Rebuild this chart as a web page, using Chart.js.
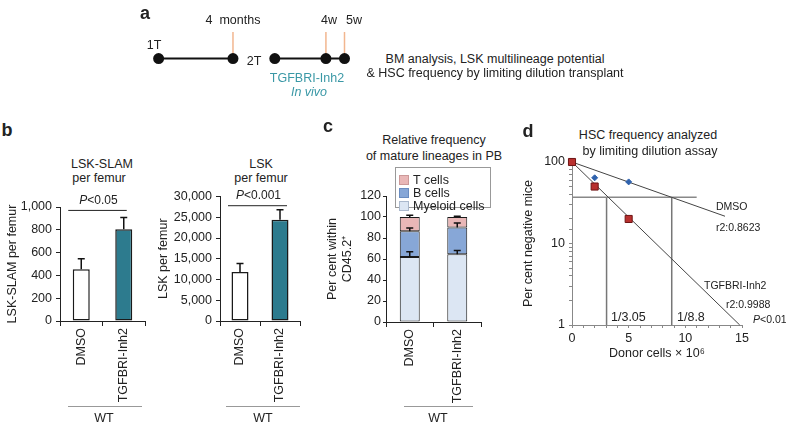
<!DOCTYPE html>
<html>
<head>
<meta charset="utf-8">
<script src="https://cdn.jsdelivr.net/npm/chart.js@4.4.1/dist/chart.umd.min.js"></script>
<style>
body{margin:0;background:#fff;width:786px;height:425px;overflow:hidden;position:relative;font-family:"Liberation Sans",Arial,sans-serif;color:#222}
canvas{position:absolute}
.t{position:absolute;white-space:nowrap;transform:translate(-50%,-50%);font-size:12.5px;line-height:1}
.l{transform:translate(0,-50%)}
.sm{font-size:10.5px}
.letter{font-weight:bold;font-size:18px}
.wt{position:absolute;border-top:1.5px solid #999;height:0}
.teal{color:#3a98a6}
#legend{position:absolute;left:395px;top:167px;width:94px;height:39px;border:1px solid #999;background:#fff;font-size:12.5px}
#legend div{position:absolute;left:3px;white-space:nowrap;line-height:1}
#legend span{display:inline-block;width:8px;height:8px;margin-right:4px;vertical-align:-1px}
</style>
</head>
<body>
<canvas id="timeline" width="250" height="110" style="left:130px;top:0"></canvas>
<canvas id="slam" width="150" height="240" style="left:1px;top:185px"></canvas>
<canvas id="lsk" width="158" height="240" style="left:152px;top:185px"></canvas>
<canvas id="lineage" width="165" height="240" style="left:321px;top:185px"></canvas>
<canvas id="hsc" width="269" height="215" style="left:517px;top:150px"></canvas>

<div class="t letter" style="left:145px;top:13px">a</div>
<div class="t" style="left:154px;top:45px">1T</div>
<div class="t" style="left:233px;top:20px">4&nbsp; months</div>
<div class="t" style="left:254px;top:61px">2T</div>
<div class="t" style="left:329px;top:20px">4w</div>
<div class="t" style="left:354px;top:20px">5w</div>
<div class="t teal" style="left:307px;top:78px">TGFBRI-Inh2</div>
<div class="t teal" style="left:309px;top:92px"><i>In vivo</i></div>
<div class="t" style="left:495px;top:59px">BM analysis, LSK multilineage potential</div>
<div class="t" style="left:495px;top:73px">&amp; HSC frequency by limiting dilution transplant</div>

<div class="t letter" style="left:7px;top:130px">b</div>
<div class="t" style="left:102px;top:164px">LSK-SLAM</div>
<div class="t" style="left:99px;top:178px">per femur</div>
<div class="t" style="left:261px;top:164px">LSK</div>
<div class="t" style="left:261px;top:178px">per femur</div>
<div class="wt" style="left:68px;top:406px;width:74px"></div>
<div class="t" style="left:104px;top:418px">WT</div>
<div class="wt" style="left:226px;top:406px;width:74px"></div>
<div class="t" style="left:263px;top:418px">WT</div>

<div class="t letter" style="left:328px;top:126px">c</div>
<div class="t" style="left:434px;top:140px">Relative frequency</div>
<div class="t" style="left:434px;top:156px">of mature lineages in PB</div>
<div id="legend">
  <div style="top:6px"><span style="background:#e9b7b7;border:1px solid #c99"></span>T cells</div>
  <div style="top:19px"><span style="background:#87a7d7;border:1px solid #6a8cc0"></span>B cells</div>
  <div style="top:32px"><span style="background:#dce6f3;border:1px solid #aab8cc"></span>Myeloid cells</div>
</div>
<div class="wt" style="left:404px;top:406px;width:69px"></div>
<div class="t" style="left:438px;top:418px">WT</div>

<div class="t letter" style="left:528px;top:131px">d</div>
<div class="t" style="left:648px;top:135px">HSC frequency analyzed</div>
<div class="t" style="left:650px;top:151px">by limiting dilution assay</div>
<div class="t l sm" style="left:716px;top:206px">DMSO</div>
<div class="t l sm" style="left:716px;top:227px">r2:0.8623</div>
<div class="t l sm" style="left:704px;top:285px">TGFBRI-Inh2</div>
<div class="t l sm" style="left:726px;top:304px">r2:0.9988</div>
<div class="t l sm" style="left:753px;top:319px"><i>P</i>&lt;0.01</div>
<div class="t l" style="left:611px;top:317px">1/3.05</div>
<div class="t l" style="left:677px;top:317px">1/8.8</div>

<script>
// panel a: schematic positions (months for 1T, then weeks after 2T)
const timelineNodes = [0, 4, 6.25, 9, 10]
const timelineMarks = [4, 9, 10]

// panel b
const groups = ['DMSO', 'TGFBRI-Inh2']
const slamMeans = [455, 805]
const slamErr = [92, 102]
const lskMeans = [11800, 24400]
const lskErr = [2050, 2400]

// panel c (per cent within CD45.2+)
const myeloid = [62, 64.5]
const myeloidErr = [5, 3.5]
const bCells = [24.4, 25.5]
const bCellsErr = [3.1, 4.3]
const tCells = [13.6, 10]
const tCellsErr = [1.6, 0.6]

// panel d
const donorCells = [0, 2, 5]
const dmsoNegative = [100, 64, 57]
const inhNegative = [100, 50, 20]
const dmsoFit = [[0, 100], [13.5, 21.6]]
const inhFit = [[0, 100], [14.8, 1]]
const negCutoff = 37
const cutoffEnd = 11
const freqInh = 3.05
const freqDmso = 8.8

Chart.defaults.font.family = '"Liberation Sans", Arial, sans-serif'
Chart.defaults.font.size = 12.5
Chart.defaults.color = '#222'

const errorBars = {
  id: 'errorBars',
  afterDatasetsDraw(chart) {
    const ctx = chart.ctx
    const y = chart.scales.y
    chart.data.datasets.forEach((ds, i) => {
      if (!ds.errors) return
      chart.getDatasetMeta(i).data.forEach((bar, j) => {
        const top = y.getPixelForValue(y.getValueForPixel(bar.y) + ds.errors[j])
        ctx.save()
        ctx.strokeStyle = '#111'
        ctx.lineWidth = 1.5
        ctx.beginPath()
        ctx.moveTo(bar.x, bar.y)
        ctx.lineTo(bar.x, top)
        ctx.moveTo(bar.x - 3.5, top)
        ctx.lineTo(bar.x + 3.5, top)
        ctx.stroke()
        ctx.restore()
      })
    })
  }
}

const sigBracket = {
  id: 'sigBracket',
  afterDraw(chart, args, opts) {
    if (!opts.text) return
    const ctx = chart.ctx
    const x = chart.scales.x, y = chart.scales.y
    const yy = y.getPixelForValue(opts.value)
    const x1 = x.getPixelForValue(0) + opts.dxL
    const x2 = x.getPixelForValue(1) + opts.dxR
    ctx.save()
    ctx.strokeStyle = '#222'
    ctx.lineWidth = 1
    ctx.beginPath()
    ctx.moveTo(x1, yy)
    ctx.lineTo(x2, yy)
    ctx.stroke()
    const fam = '"Liberation Sans", Arial, sans-serif'
    ctx.font = 'italic 12px ' + fam
    const wP = ctx.measureText('P').width
    ctx.font = '12px ' + fam
    const wR = ctx.measureText(opts.text).width
    const sx = (x1 + x2) / 2 + 1 - (wP + wR) / 2
    ctx.fillStyle = '#222'
    ctx.textBaseline = 'middle'
    ctx.textAlign = 'left'
    ctx.font = 'italic 12px ' + fam
    ctx.fillText('P', sx, yy - 10)
    ctx.font = '12px ' + fam
    ctx.fillText(opts.text, sx + wP, yy - 10)
    ctx.restore()
  }
}

// panel a timeline
const tl = (xs) => xs.map(v => ({x: v, y: 0}))
new Chart(document.getElementById('timeline'), {
  type: 'scatter',
  data: {
    datasets: [
      {data: tl(timelineNodes.slice(0, 2)), showLine: true, borderColor: '#111', borderWidth: 2,
        pointRadius: 4.5, pointBackgroundColor: '#111', pointBorderColor: '#111', clip: false},
      {data: tl(timelineNodes.slice(2)), showLine: true, borderColor: '#111', borderWidth: 2,
        pointRadius: 4.5, pointBackgroundColor: '#111', pointBorderColor: '#111', clip: false},
      ...timelineMarks.map(m => ({data: [{x: m, y: 0}, {x: m, y: 1}], showLine: true,
        borderColor: '#f2b68f', borderWidth: 1.5, pointRadius: 0}))
    ]
  },
  options: {
    animation: false, responsive: false,
    layout: {padding: 0},
    plugins: {legend: {display: false}, tooltip: {enabled: false}},
    scales: {
      x: {display: false, min: -1.19, max: 11.56},
      y: {display: false, min: -1.7, max: 1.967}
    }
  }
})

function barChart(id, datasets, o) {
  return new Chart(document.getElementById(id), {
    type: 'bar',
    data: {labels: groups, datasets},
    plugins: [errorBars, sigBracket],
    options: {
      animation: false, responsive: false,
      layout: {padding: {top: o.padTop, right: o.padRight, left: 0, bottom: 0}},
      plugins: {legend: {display: false}, tooltip: {enabled: false}, sigBracket: o.bracket || {}},
      scales: {
        x: {
          stacked: !!o.stacked,
          grid: {drawOnChartArea: false, offset: true, tickLength: 5, color: '#222'},
          border: {color: '#222'},
          ticks: {minRotation: 90, maxRotation: 90, padding: 2, font: {size: 12.5}},
          afterFit: s => { s.height = o.xHeight }
        },
        y: {
          stacked: !!o.stacked,
          min: 0, max: o.max,
          ticks: {stepSize: o.step, padding: o.tickPad, callback: v => v.toLocaleString('en-US')},
          grid: {drawOnChartArea: false, tickLength: o.tickLen, color: '#222'},
          border: {color: '#222'},
          title: {display: true, text: o.yTitle, padding: {top: 4, bottom: 4}},
          afterFit: s => { s.width = o.yWidth }
        }
      }
    }
  })
}

const barStyle = {borderColor: '#1a1a1a', borderWidth: 1.5, borderSkipped: false}

barChart('slam', [
  {data: slamMeans, errors: slamErr, backgroundColor: ['#ffffff', '#2d7b8e'],
    barPercentage: 0.4, categoryPercentage: 1, ...barStyle}
], {max: 1000, step: 200, yTitle: 'LSK-SLAM per femur', yWidth: 59, padTop: 22, padRight: 6,
  xHeight: 104, tickPad: 4, tickLen: 4,
  bracket: {text: '<0.05', value: 970, dxL: -13, dxR: 3}})

barChart('lsk', [
  {data: lskMeans, errors: lskErr, backgroundColor: ['#ffffff', '#2d7b8e'],
    barPercentage: 0.425, categoryPercentage: 1, ...barStyle}
], {max: 30000, step: 5000, yTitle: 'LSK per femur', yWidth: 68, padTop: 11, padRight: 10,
  xHeight: 104, tickPad: 4, tickLen: 4,
  bracket: {text: '<0.001', value: 27780, dxL: -12, dxR: 7}})

barChart('lineage', [
  {label: 'Myeloid cells', data: myeloid, errors: myeloidErr, backgroundColor: '#dce6f3',
    barPercentage: 0.42, categoryPercentage: 1, ...barStyle, borderWidth: 1},
  {label: 'B cells', data: bCells, errors: bCellsErr, backgroundColor: '#87a7d7',
    barPercentage: 0.42, categoryPercentage: 1, ...barStyle, borderWidth: 1},
  {label: 'T cells', data: tCells, errors: tCellsErr, backgroundColor: '#e9b7b7',
    barPercentage: 0.42, categoryPercentage: 1, ...barStyle, borderWidth: 1}
], {stacked: true, max: 120, step: 20, yTitle: ['Per cent within', 'CD45.2\u207A'], yWidth: 65,
  padTop: 11, padRight: 5, xHeight: 103, tickPad: 2, tickLen: 3})

// panel d
const pts = (ys) => donorCells.map((x, i) => ({x, y: ys[i]}))
const seg = (p) => p.map(([x, y]) => ({x, y}))
const lineDs = (data, color, w) => ({data, showLine: true, borderColor: color, borderWidth: w,
  pointRadius: 0, clip: false})
new Chart(document.getElementById('hsc'), {
  type: 'scatter',
  data: {
    datasets: [
      {label: 'TGFBRI-Inh2', data: pts(inhNegative), pointStyle: 'rect', pointRadius: 5,
        backgroundColor: '#b8302e', borderColor: '#6e1414', borderWidth: 1, clip: false},
      {label: 'DMSO', data: pts(dmsoNegative), pointStyle: 'rectRot', pointRadius: 3,
        backgroundColor: '#2f62ad', borderColor: '#2f62ad', borderWidth: 1, clip: false},
      lineDs(seg(dmsoFit), '#444', 1),
      lineDs(seg(inhFit), '#444', 1),
      lineDs([{x: 0, y: negCutoff}, {x: cutoffEnd, y: negCutoff}], '#888', 1.5),
      lineDs([{x: freqInh, y: negCutoff}, {x: freqInh, y: 1}], '#777', 1.5),
      lineDs([{x: freqDmso, y: negCutoff}, {x: freqDmso, y: 1}], '#777', 1.5)
    ]
  },
  options: {
    animation: false, responsive: false,
    layout: {padding: {top: 12, right: 44, left: 0, bottom: 0}},
    plugins: {legend: {display: false}, tooltip: {enabled: false}},
    scales: {
      x: {
        type: 'linear', min: 0, max: 15,
        ticks: {stepSize: 1, autoSkip: false, maxRotation: 0, padding: 3,
          callback: v => (v % 5 === 0 ? v : '')},
        grid: {drawOnChartArea: false, tickLength: 3, color: '#888'},
        border: {color: '#888'},
        title: {display: true, text: 'Donor cells \u00D7 10\u2076', padding: {top: 4, bottom: 4}},
        afterFit: s => { s.height = 40 }
      },
      y: {
        type: 'logarithmic', min: 1, max: 100,
        ticks: {autoSkip: false, padding: 4,
          callback: v => ([1, 10, 100].includes(v) ? v : '')},
        grid: {drawOnChartArea: false, tickLength: 3, color: '#888'},
        border: {color: '#888'},
        title: {display: true, text: 'Per cent negative mice', padding: {top: 4, bottom: 4}},
        afterFit: s => { s.width = 55 }
      }
    }
  }
})
</script>
</body>
</html>
